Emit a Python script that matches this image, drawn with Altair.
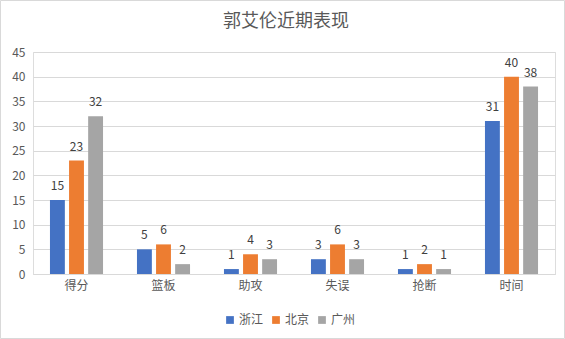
import altair as alt
import pandas as pd

categories = ["得分", "篮板", "助攻", "失误", "抢断", "时间"]
series = ["浙江", "北京", "广州"]
zhejiang = [15, 5, 1, 3, 1, 31]
beijing = [23, 6, 4, 6, 2, 40]
guangzhou = [32, 2, 3, 3, 1, 38]
colors = ["#4472C4", "#ED7D31", "#A5A5A5"]

rows = []
for vals, s in zip([zhejiang, beijing, guangzhou], series):
    for c, v in zip(categories, vals):
        rows.append({"项目": c, "球队": s, "数值": v})
df = pd.DataFrame(rows)

FONT = "Noto Sans CJK SC"

base = alt.Chart(df).encode(
    x=alt.X("项目:N", sort=categories,
            scale=alt.Scale(paddingInner=0.39, paddingOuter=0.195),
            axis=alt.Axis(title=None, labelAngle=0, ticks=False, domainColor="#D9D9D9",
                          labelColor="#595959", labelFontSize=12, labelPadding=6,
                          labelFont=FONT, grid=False)),
    xOffset=alt.XOffset("球队:N", sort=series,
                        scale=alt.Scale(paddingInner=0.22, paddingOuter=0)),
    y=alt.Y("数值:Q", scale=alt.Scale(domain=[0, 45]),
            axis=alt.Axis(title=None, values=list(range(0, 50, 5)), ticks=False, domain=False,
                          gridColor="#D9D9D9", labelColor="#595959", labelFontSize=12,
                          labelFont=FONT, labelPadding=8)),
)

bars = base.mark_bar().encode(
    color=alt.Color("球队:N", sort=series,
                    scale=alt.Scale(domain=series, range=colors),
                    legend=alt.Legend(title=None, orient="none", direction="horizontal",
                                      legendX=191, legendY=262, symbolType="square",
                                      symbolSize=60, symbolStrokeWidth=0,
                                      labelFont=FONT, labelFontSize=12, labelColor="#595959",
                                      columnPadding=6, symbolOffset=0, labelOffset=3))
)

labels = base.mark_text(dy=-14, font=FONT, fontSize=12, color="#404040").encode(
    text="数值:Q"
)

frame = alt.Chart(pd.DataFrame({"f": [0]})).mark_rect(
    fill=None, stroke="#D9D9D9", strokeWidth=1
).encode(
    x=alt.value(-32.5), x2=alt.value(531.5),
    y=alt.value(-51.5), y2=alt.value(286.5)
)

chart = (frame + bars + labels).properties(
    width=522, height=222,
    title=alt.TitleParams("郭艾伦近期表现", font=FONT, fontSize=18, fontWeight="normal",
                          color="#595959", offset=0, dy=31, dx=-8),
    autosize=alt.AutoSizeParams(type="none"),
    padding={"left": 33, "top": 52, "right": 10, "bottom": 65},
).configure_view(strokeWidth=0, stroke="transparent").configure(background="white")

chart.save("out.html", embed_options={"renderer": "svg", "actions": False})
